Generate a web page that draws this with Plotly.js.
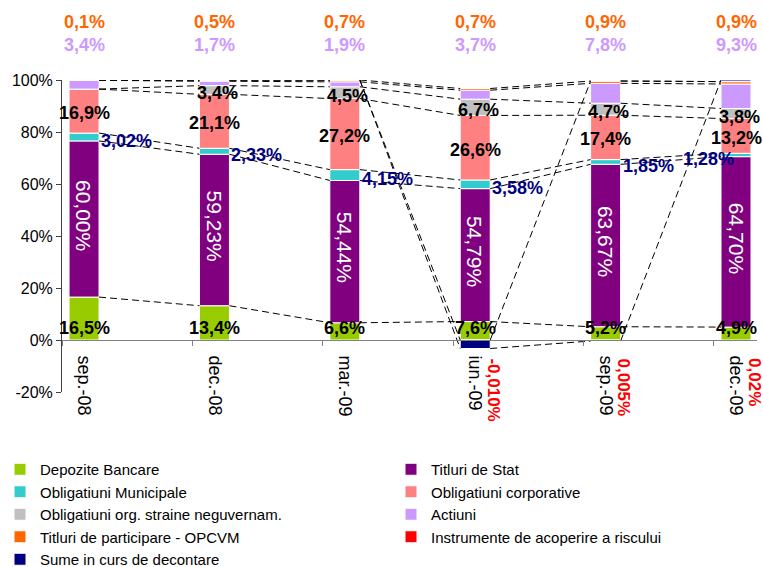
<!DOCTYPE html>
<html><head><meta charset="utf-8">
<script src="https://cdn.plot.ly/plotly-3.0.1.min.js"></script>
<style>html,body{margin:0;padding:0;background:#fff}#chart{width:763px;height:567px}</style>
</head><body><div id="chart"></div>
<script>
const categories = ["sep.-08", "dec.-08", "mar.-09", "iun.-09", "sep.-09", "dec.-09"];
const depoziteBancare = [16.5, 13.4, 6.6, 7.6, 5.2, 4.9];
const titluriDeStat = [60.00, 59.23, 54.44, 54.79, 63.67, 64.70];
const obligatiuniMunicipale = [3.02, 2.33, 4.15, 3.58, 1.85, 1.28];
const obligatiuniCorporative = [16.9, 21.1, 27.2, 26.6, 17.4, 13.2];
const obligatiuniStraine = [0, 3.4, 4.5, 6.7, 4.7, 3.8];
const actiuni = [3.4, 1.7, 1.9, 3.7, 7.8, 9.3];
const titluriParticipare = [0.1, 0.5, 0.7, 0.7, 0.9, 0.9];
const instrumenteAcoperire = [0, 0, 0, -0.010, 0.005, 0.02];
const instrumenteDecimals = [0, 0, 0, 3, 3, 2];
const sumeDecontare = [0, 0, 0, -3.5, -0.4, 0.6];
const yTickValues = [-20, 0, 20, 40, 60, 80, 100];
const yTickLabels = ["-20%", "0%", "20%", "40%", "60%", "80%", "100%"];

const series = [
  {name: "Depozite Bancare", values: depoziteBancare, color: "#99CC00", legend: "legend"},
  {name: "Titluri de Stat", values: titluriDeStat, color: "#800080", legend: "legend2"},
  {name: "Obligatiuni Municipale", values: obligatiuniMunicipale, color: "#33CCCC", legend: "legend"},
  {name: "Obligatiuni corporative", values: obligatiuniCorporative, color: "#FF8080", legend: "legend2"},
  {name: "Obligatiuni org. straine neguvernam.", values: obligatiuniStraine, color: "#C0C0C0", legend: "legend"},
  {name: "Actiuni", values: actiuni, color: "#CC99FF", legend: "legend2"},
  {name: "Titluri de participare - OPCVM", values: titluriParticipare, color: "#FF6600", legend: "legend"},
  {name: "Instrumente de acoperire a riscului", values: instrumenteAcoperire, color: "#FF0000", legend: "legend2"},
  {name: "Sume in curs de decontare", values: sumeDecontare, color: "#000080", legend: "legend"}
];

const nCat = categories.length;
const xIdx = categories.map((_, i) => i);
const BAR_W = 0.23;
const Y_MIN = -20, Y_MAX = 100;
const X_RANGE = [-0.169, 5.161];

// 100% stacking: share of the sum of absolute values
const absTotals = xIdx.map(i => series.reduce((s, ser) => s + Math.abs(ser.values[i]), 0));
const posCum = xIdx.map(() => 0), negCum = xIdx.map(() => 0);
series.forEach(ser => {
  ser.share = ser.values.map((v, i) => v / absTotals[i] * 100);
  ser.start = []; ser.end = [];
  ser.share.forEach((v, i) => {
    if (v >= 0) { ser.start[i] = posCum[i]; posCum[i] += v; ser.end[i] = posCum[i]; }
    else { ser.start[i] = negCum[i]; negCum[i] += v; ser.end[i] = negCum[i]; }
  });
  ser.mid = ser.start.map((s, i) => (s + ser.end[i]) / 2);
});

const traces = series.map(ser => ({
  type: "bar", x: xIdx, y: ser.share, name: ser.name, width: BAR_W,
  marker: {color: ser.color, line: {color: "#ffffff", width: 1}},
  legend: ser.legend, hoverinfo: "skip", textposition: "none"
}));

// series lines (dashed connectors between the stacked segments)
series.forEach(ser => {
  const xs = [], ys = [];
  for (let i = 0; i < nCat - 1; i++) {
    xs.push(i + BAR_W / 2, i + 1 - BAR_W / 2, null);
    ys.push(ser.end[i], ser.end[i + 1], null);
  }
  traces.push({
    type: "scatter", mode: "lines", x: xs, y: ys, xaxis: "x2", yaxis: "y",
    line: {color: "#000000", width: 1, dash: "7px,4px"},
    showlegend: false, hoverinfo: "skip", cliponaxis: false
  });
});

const fmt = (v, d) => v.toFixed(d).replace(".", ",") + "%";
const FONT = '"Liberation Sans", Arial, sans-serif';
const ann = [];
const boldBlack = {family: FONT, size: 18, color: "#000000", weight: "bold"};

xIdx.forEach(i => {
  ann.push({x: i, y: 0, xref: "x", yref: "y", yanchor: "bottom", text: fmt(depoziteBancare[i], 1),
    showarrow: false, font: boldBlack});
  ann.push({x: i, y: series[1].mid[i], xref: "x", yref: "y", yshift: 4, text: fmt(titluriDeStat[i], 2), textangle: 90,
    showarrow: false, font: {family: FONT, size: 21, color: "#ffffff"}});
  const last = i === nCat - 1;
  ann.push({x: last ? i : i + BAR_W / 2, y: series[2].mid[i], xref: "x", yref: "y",
    xanchor: last ? "right" : "left", yshift: -4, text: fmt(obligatiuniMunicipale[i], 2),
    showarrow: false, font: {family: FONT, size: 18, color: "#000080", weight: "bold"}});
  ann.push({x: i, y: series[3].mid[i], xref: "x", yref: "y", yshift: -2, text: fmt(obligatiuniCorporative[i], 1),
    showarrow: false, font: boldBlack});
  if (obligatiuniStraine[i] > 0) {
    ann.push({x: i, y: series[4].mid[i], xref: "x", yref: "y", xshift: 3, yshift: -3, text: fmt(obligatiuniStraine[i], 1),
      showarrow: false, font: boldBlack});
  }
  ann.push({x: i, y: 1.112, xref: "x", yref: "paper", yanchor: "middle", text: fmt(actiuni[i], 1),
    showarrow: false, font: {family: FONT, size: 18, color: "#CC99FF", weight: "bold"}});
  ann.push({x: i, y: 1.186, xref: "x", yref: "paper", yanchor: "middle", text: fmt(titluriParticipare[i], 1),
    showarrow: false, font: {family: FONT, size: 18, color: "#FF6600", weight: "bold"}});
  if (instrumenteAcoperire[i] !== 0) {
    ann.push({x: i + 0.14, y: -6.3, xref: "x", yref: "y", yanchor: "top", textangle: 90,
      text: fmt(instrumenteAcoperire[i], instrumenteDecimals[i]),
      showarrow: false, font: {family: FONT, size: 17, color: "#FF0000", weight: "bold"}});
  }
});

const axisPos = (0 - Y_MIN) / (Y_MAX - Y_MIN);
const legendBase = {xref: "container", yref: "container", y: 1 - 453 / 567, yanchor: "top", xanchor: "left",
  font: {family: FONT, size: 15, color: "#000000"}, bgcolor: "rgba(0,0,0,0)", tracegroupgap: 0, traceorder: "normal"};

const layout = {
  width: 763, height: 567,
  margin: {l: 62, r: 6, t: 80, b: 175, pad: 0, autoexpand: false},
  paper_bgcolor: "#ffffff", plot_bgcolor: "rgba(0,0,0,0)",
  barmode: "relative", bargap: 0,
  font: {family: FONT, color: "#000000"},
  showlegend: true,
  xaxis: {range: X_RANGE, tickvals: xIdx, ticktext: categories, tickangle: 90, ticks: "",
    ticklabelstandoff: 11,
    showline: true, linecolor: "#808080", linewidth: 1, anchor: "free", position: axisPos,
    showgrid: false, zeroline: false, tickfont: {family: FONT, size: 18, color: "#000000"}, fixedrange: true,
    automargin: false},
  xaxis2: {range: X_RANGE, overlaying: "x", anchor: "free", position: axisPos,
    tickvals: xIdx.map(i => i + X_RANGE[0]), ticks: "outside", ticklen: 5, tickcolor: "#808080",
    showticklabels: false, showgrid: false, zeroline: false, showline: false, fixedrange: true, automargin: false},
  yaxis: {range: [Y_MIN, Y_MAX], tickvals: yTickValues, ticktext: yTickLabels, ticks: "outside", ticklen: 5,
    tickcolor: "#404040", showline: true, linecolor: "#404040", linewidth: 1, showgrid: false, zeroline: false,
    tickfont: {family: FONT, size: 16, color: "#000000"}, fixedrange: true, automargin: false},
  legend: Object.assign({}, legendBase, {x: 0}),
  legend2: Object.assign({}, legendBase, {x: 391 / 763}),
  annotations: ann
};

Plotly.newPlot("chart", traces, layout, {displayModeBar: false, staticPlot: true});
</script>
</body></html>
